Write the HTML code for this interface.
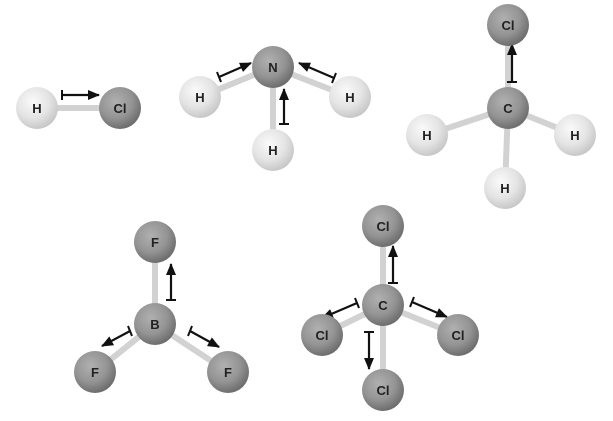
<!DOCTYPE html>
<html><head><style>body{margin:0;background:#fff}svg{display:block}</style></head><body>
<svg width="613" height="421" viewBox="0 0 613 421" xmlns="http://www.w3.org/2000/svg" font-family="Liberation Sans, sans-serif">
<defs>
<radialGradient id="lt" cx="40%" cy="35%" r="65%"><stop offset="0" stop-color="#fafafa"/><stop offset="0.6" stop-color="#e4e4e4"/><stop offset="1" stop-color="#c8c8c8"/></radialGradient>
<radialGradient id="dk" cx="40%" cy="35%" r="65%"><stop offset="0" stop-color="#b0b0b0"/><stop offset="0.6" stop-color="#949494"/><stop offset="1" stop-color="#6e6e6e"/></radialGradient>
<marker id="ah" markerWidth="12" markerHeight="10" refX="11" refY="5" orient="auto" markerUnits="userSpaceOnUse"><path d="M0,0 L12,5 L0,10 z" fill="#111"/></marker>
</defs>
<g stroke="#d2d2d2" stroke-width="6" stroke-linecap="round">
<line x1="37" y1="108" x2="120" y2="108"/>
<line x1="273" y1="67" x2="200" y2="97"/><line x1="273" y1="67" x2="350" y2="97"/><line x1="273" y1="67" x2="273" y2="150"/>
<line x1="508" y1="108" x2="508" y2="25"/><line x1="508" y1="108" x2="427" y2="135"/><line x1="508" y1="108" x2="575" y2="135"/><line x1="508" y1="108" x2="505" y2="188"/>
<line x1="155" y1="324" x2="155" y2="242"/><line x1="155" y1="324" x2="95" y2="372"/><line x1="155" y1="324" x2="228" y2="372"/>
<line x1="383" y1="305" x2="383" y2="226"/><line x1="383" y1="305" x2="322" y2="335"/><line x1="383" y1="305" x2="458" y2="335"/><line x1="383" y1="305" x2="383" y2="390"/>
</g>
<g stroke="#111" stroke-width="2.2" fill="none" marker-end="url(#ah)">
<line x1="62" y1="95" x2="99" y2="95"/>
<line x1="219" y1="77" x2="251" y2="63"/><line x1="334" y1="78" x2="299" y2="63"/><line x1="284" y1="124" x2="284" y2="89"/>
<line x1="512" y1="82" x2="512" y2="44"/>
<line x1="171" y1="300" x2="171" y2="264"/><line x1="130" y1="331" x2="102" y2="346"/><line x1="190" y1="331" x2="219" y2="347"/>
<line x1="393" y1="283" x2="393" y2="246"/><line x1="357" y1="303" x2="322" y2="318"/><line x1="412" y1="302" x2="447" y2="317"/><line x1="369" y1="332" x2="369" y2="369"/>
</g>
<g stroke="#111" stroke-width="2">
<line x1="62" y1="90" x2="62" y2="100"/>
<line x1="217" y1="72" x2="221" y2="82"/><line x1="336" y1="73" x2="332" y2="83"/><line x1="279" y1="124" x2="289" y2="124"/>
<line x1="507" y1="82" x2="517" y2="82"/>
<line x1="166" y1="300" x2="176" y2="300"/><line x1="128" y1="326" x2="132" y2="336"/><line x1="192" y1="326" x2="188" y2="336"/>
<line x1="388" y1="283" x2="398" y2="283"/><line x1="355" y1="298" x2="359" y2="308"/><line x1="414" y1="297" x2="410" y2="307"/><line x1="364" y1="332" x2="374" y2="332"/>
</g>
<g font-size="13" font-weight="bold" text-anchor="middle" fill="#222">
<circle cx="37" cy="108" r="21" fill="url(#lt)"/><text x="37" y="113">H</text>
<circle cx="120" cy="108" r="21" fill="url(#dk)"/><text x="120" y="113">Cl</text>
<circle cx="273" cy="67" r="21" fill="url(#dk)"/><text x="273" y="72">N</text>
<circle cx="200" cy="97" r="21" fill="url(#lt)"/><text x="200" y="102">H</text>
<circle cx="350" cy="97" r="21" fill="url(#lt)"/><text x="350" y="102">H</text>
<circle cx="273" cy="150" r="21" fill="url(#lt)"/><text x="273" y="155">H</text>
<circle cx="508" cy="25" r="21" fill="url(#dk)"/><text x="508" y="30">Cl</text>
<circle cx="508" cy="108" r="21" fill="url(#dk)"/><text x="508" y="113">C</text>
<circle cx="427" cy="135" r="21" fill="url(#lt)"/><text x="427" y="140">H</text>
<circle cx="575" cy="135" r="21" fill="url(#lt)"/><text x="575" y="140">H</text>
<circle cx="505" cy="188" r="21" fill="url(#lt)"/><text x="505" y="193">H</text>
<circle cx="155" cy="242" r="21" fill="url(#dk)"/><text x="155" y="247">F</text>
<circle cx="155" cy="324" r="21" fill="url(#dk)"/><text x="155" y="329">B</text>
<circle cx="95" cy="372" r="21" fill="url(#dk)"/><text x="95" y="377">F</text>
<circle cx="228" cy="372" r="21" fill="url(#dk)"/><text x="228" y="377">F</text>
<circle cx="383" cy="226" r="21" fill="url(#dk)"/><text x="383" y="231">Cl</text>
<circle cx="383" cy="305" r="21" fill="url(#dk)"/><text x="383" y="310">C</text>
<circle cx="322" cy="335" r="21" fill="url(#dk)"/><text x="322" y="340">Cl</text>
<circle cx="458" cy="335" r="21" fill="url(#dk)"/><text x="458" y="340">Cl</text>
<circle cx="383" cy="390" r="21" fill="url(#dk)"/><text x="383" y="395">Cl</text>
</g>
</svg>
</body></html>
